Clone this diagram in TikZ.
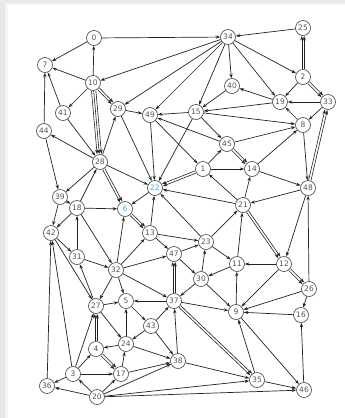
\documentclass[tikz,border=0pt]{standalone}
\usepackage{fontspec}
\setmainfont{DejaVu Sans}
\definecolor{HotBlue}{RGB}{60,170,230}
\definecolor{EdgeGray}{RGB}{35,35,35}
\definecolor{LabelGray}{RGB}{85,85,85}
\usetikzlibrary{arrows.meta,calc}

\begin{document}
\begin{tikzpicture}[
      x=1pt, y=-1pt,
      vertex/.style={circle, draw=EdgeGray!85, fill=white, line width=0.6pt, inner sep=0pt,
                     minimum size=15pt, font=\fontsize{7.5}{8}\selectfont, text=LabelGray},
      hot/.style={text=HotBlue},
      arc/.style={draw=EdgeGray, line width=0.7pt, -{Stealth[length=4.5pt,width=3.2pt]}},
      side/.style={arc, line width=0.6pt, shorten <=8pt, shorten >=8pt}
    ]
      % frame
      \fill[gray!18] (0,0) rectangle (345,418);
      \fill[gray!8] (5,3) rectangle (345,418);
      \fill[white] (8,5) rectangle (345,418);
      \useasboundingbox (0,0) rectangle (345,418);

      % vertices
      \node[vertex] (v0) at (94,38) {0};
      \node[vertex] (v34) at (228,37) {34};
      \node[vertex] (v25) at (303,28) {25};
      \node[vertex] (v7) at (45,65) {7};
      \node[vertex] (v10) at (93,83) {10};
      \node[vertex] (v2) at (303,77) {2};
      \node[vertex] (v40) at (232,86) {40};
      \node[vertex] (v19) at (280,102) {19};
      \node[vertex] (v33) at (328,102) {33};
      \node[vertex] (v41) at (63,113) {41};
      \node[vertex] (v29) at (118,109) {29};
      \node[vertex] (v49) at (150,115) {49};
      \node[vertex] (v15) at (196,112) {15};
      \node[vertex] (v8) at (303,125) {8};
      \node[vertex] (v44) at (44,131) {44};
      \node[vertex] (v45) at (227,144) {45};
      \node[vertex] (v1) at (203,169) {1};
      \node[vertex] (v14) at (252,169) {14};
      \node[vertex] (v28) at (100,162) {28};
      \node[vertex, hot] (v22) at (155,188) {22};
      \node[vertex] (v48) at (308,188) {48};
      \node[vertex] (v21) at (243,205) {21};
      \node[vertex] (v39) at (60,197) {39};
      \node[vertex] (v18) at (77,208) {18};
      \node[vertex, hot] (v6) at (125,209) {6};
      \node[vertex] (v42) at (51,233) {42};
      \node[vertex] (v13) at (150,233) {13};
      \node[vertex] (v23) at (206,242) {23};
      \node[vertex] (v31) at (77,257) {31};
      \node[vertex] (v47) at (174,254) {47};
      \node[vertex] (v32) at (116,270) {32};
      \node[vertex] (v11) at (237,264) {11};
      \node[vertex] (v12) at (284,264) {12};
      \node[vertex] (v30) at (201,279) {30};
      \node[vertex] (v5) at (126,301) {5};
      \node[vertex] (v37) at (174,301) {37};
      \node[vertex] (v27) at (96,306) {27};
      \node[vertex] (v26) at (309,289) {26};
      \node[vertex] (v43) at (151,326) {43};
      \node[vertex] (v9) at (236,312) {9};
      \node[vertex] (v16) at (301,315) {16};
      \node[vertex] (v4) at (96,349) {4};
      \node[vertex] (v24) at (126,344) {24};
      \node[vertex] (v38) at (178,361) {38};
      \node[vertex] (v3) at (73,374) {3};
      \node[vertex] (v17) at (121,374) {17};
      \node[vertex] (v35) at (257,380) {35};
      \node[vertex] (v36) at (47,386) {36};
      \node[vertex] (v20) at (97,397) {20};
      \node[vertex] (v46) at (304,390) {46};

      % single arcs
      \foreach \a/\b in {0/7, 0/34, 10/0, 10/7, 34/10, 44/7, 41/7, 10/41, 29/49, 34/29,
          28/29, 29/22, 49/22, 41/28, 28/44, 44/39, 28/39, 18/28, 28/22, 39/18, 39/42,
          18/6, 18/42, 31/18, 18/32, 42/31, 42/27, 3/42, 36/42, 34/49, 15/22, 34/15,
          34/40, 34/19, 34/2, 25/34, 19/40, 19/15, 40/15, 2/19, 33/19, 8/19, 33/8, 8/48,
          15/8, 45/8, 14/8, 15/49, 45/49, 15/45, 49/1, 1/45, 1/14, 14/48, 21/14, 21/1,
          21/22, 23/22, 22/6, 13/22, 32/6, 32/13, 13/23, 13/47, 32/47, 47/23, 47/30,
          11/30, 30/23, 30/37, 30/9, 23/21, 23/11, 11/21, 48/21, 48/12, 12/11, 9/11,
          12/9, 26/9, 26/48, 26/16, 16/9, 46/16, 9/46, 35/9, 37/9, 38/35, 35/46, 20/35,
          20/46, 38/37, 32/37, 37/5, 43/37, 5/43, 32/5, 32/27, 27/5, 27/24, 27/31, 31/32,
          3/27, 3/4, 3/17, 3/36, 20/3, 20/36, 20/17, 20/38, 17/24, 17/38, 24/4, 43/24,
          24/5, 24/38, 43/38}
        \draw[arc] (v\a) -- (v\b);

      % doubled arcs, drawn side by side
      \foreach \a/\b in {10/29, 28/6, 6/13, 1/22, 45/14, 37/47, 21/12, 12/26, 37/35,
          4/27, 4/17, 2/25, 2/33, 48/33} {
        \draw[side] ($(v\a.center)!1.2pt!90:(v\b.center)$) -- ($(v\b.center)!1.2pt!-90:(v\a.center)$);
        \draw[side] ($(v\a.center)!1.2pt!-90:(v\b.center)$) -- ($(v\b.center)!1.2pt!90:(v\a.center)$);
      }

      % tripled arc
      \draw[side] (v10.center) -- (v28.center);
      \draw[side] ($(v10.center)!2.2pt!90:(v28.center)$) -- ($(v28.center)!2.2pt!-90:(v10.center)$);
      \draw[side] ($(v10.center)!2.2pt!-90:(v28.center)$) -- ($(v28.center)!2.2pt!90:(v10.center)$);
    \end{tikzpicture}
\end{document}
